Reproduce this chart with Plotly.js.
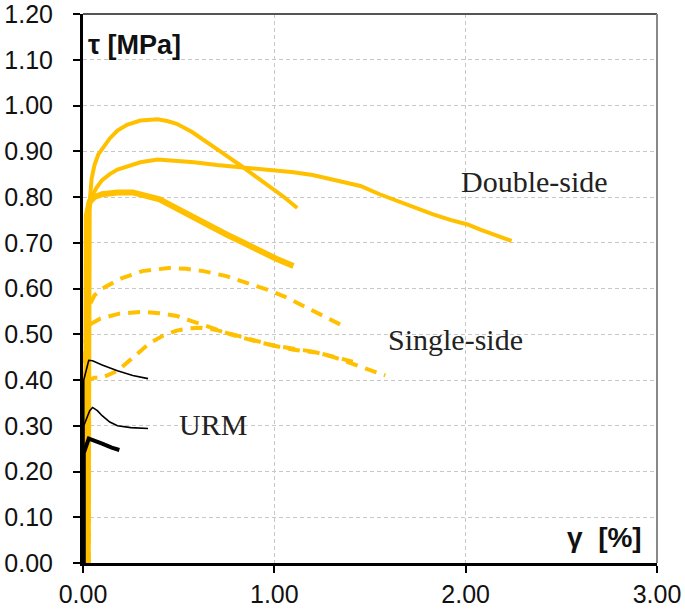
<!DOCTYPE html>
<html>
<head>
<meta charset="utf-8">
<script src="https://cdn.plot.ly/plotly-3.0.1.min.js"></script>
<style>html,body{margin:0;padding:0;background:#fff;}#chart{width:685px;height:609px;}</style>
</head>
<body>
<div id="chart"></div>
<script>
// Double-side (solid orange)
const dsA_x = [0.03, 0.03, 0.035, 0.045, 0.06, 0.08, 0.10, 0.14, 0.18, 0.23, 0.30, 0.39, 0.44, 0.49, 0.57, 0.66, 0.74, 0.82, 0.90, 0.99, 1.05, 1.12];
const dsA_y = [0, 0.70, 0.79, 0.84, 0.87, 0.893, 0.906, 0.928, 0.945, 0.958, 0.967, 0.970, 0.966, 0.960, 0.942, 0.915, 0.893, 0.870, 0.846, 0.820, 0.800, 0.776];
const dsB_x = [0.025, 0.025, 0.03, 0.045, 0.07, 0.10, 0.14, 0.18, 0.23, 0.30, 0.39, 0.48, 0.58, 0.70, 0.84, 0.97, 1.10, 1.20, 1.30, 1.38, 1.45, 1.55, 1.65, 1.74, 1.83, 1.92, 2.01, 2.08, 2.14, 2.20, 2.24];
const dsB_y = [0, 0.72, 0.77, 0.80, 0.82, 0.837, 0.850, 0.860, 0.867, 0.876, 0.882, 0.880, 0.876, 0.870, 0.865, 0.860, 0.854, 0.848, 0.838, 0.830, 0.824, 0.806, 0.790, 0.776, 0.762, 0.750, 0.740, 0.728, 0.719, 0.710, 0.704];
const dsC_x = [0.015, 0.015, 0.02, 0.035, 0.06, 0.10, 0.18, 0.26, 0.33, 0.40, 0.49, 0.58, 0.66, 0.75, 0.84, 0.925, 1.01, 1.10];
const dsC_y = [0, 0.70, 0.76, 0.79, 0.800, 0.806, 0.810, 0.810, 0.804, 0.795, 0.775, 0.754, 0.736, 0.718, 0.700, 0.682, 0.665, 0.649];
// Single-side (dashed orange)
const ssA_x = [0.02, 0.02, 0.03, 0.06, 0.10, 0.20, 0.31, 0.45, 0.54, 0.63, 0.75, 0.86, 0.98, 1.06, 1.13, 1.25, 1.38];
const ssA_y = [0, 0.50, 0.56, 0.585, 0.600, 0.622, 0.638, 0.645, 0.643, 0.638, 0.627, 0.612, 0.595, 0.581, 0.566, 0.540, 0.514];
const ssB_x = [0.01, 0.01, 0.03, 0.09, 0.19, 0.31, 0.40, 0.49, 0.56, 0.63, 0.70, 0.77, 0.85, 0.925, 1.00, 1.10, 1.20, 1.29, 1.41];
const ssB_y = [0, 0.48, 0.52, 0.534, 0.545, 0.549, 0.546, 0.540, 0.530, 0.519, 0.510, 0.500, 0.490, 0.482, 0.475, 0.468, 0.462, 0.453, 0.440];
const ssC_x = [0.03, 0.03, 0.06, 0.10, 0.18, 0.26, 0.35, 0.42, 0.49, 0.56, 0.62, 0.69, 0.75, 0.82, 0.89, 1.00, 1.10, 1.22, 1.31, 1.40, 1.49, 1.58];
const ssC_y = [0, 0.40, 0.405, 0.405, 0.420, 0.450, 0.481, 0.497, 0.508, 0.513, 0.514, 0.510, 0.503, 0.495, 0.486, 0.475, 0.466, 0.460, 0.450, 0.436, 0.423, 0.410];
// URM (black)
const urmA_x = [0.004, 0.004, 0.03, 0.05, 0.10, 0.18, 0.26, 0.34];
const urmA_y = [0, 0.40, 0.443, 0.442, 0.433, 0.420, 0.410, 0.403];
const urmB_x = [0.004, 0.004, 0.035, 0.05, 0.075, 0.10, 0.14, 0.18, 0.25, 0.34];
const urmB_y = [0, 0.30, 0.333, 0.340, 0.333, 0.322, 0.308, 0.300, 0.296, 0.294];
const urmC_x = [0.004, 0.004, 0.03, 0.06, 0.10, 0.15, 0.19];
const urmC_y = [0, 0.24, 0.272, 0.268, 0.261, 0.252, 0.247];

const yTicks = [0, 0.1, 0.2, 0.3, 0.4, 0.5, 0.6, 0.7, 0.8, 0.9, 1.0, 1.1, 1.2];
const xTicks = [0, 1, 2, 3];

const ORANGE = '#FFC000';
function tr(x, y, color, width, dash) {
  return {x: x, y: y, type: 'scatter', mode: 'lines', hoverinfo: 'skip',
    line: {color: color, width: width, dash: dash || 'solid', shape: 'linear'}};
}
const data = [
  tr(ssA_x, ssA_y, ORANGE, 4, '12px,8px'),
  tr(ssB_x, ssB_y, ORANGE, 4, '12px,8px'),
  tr(ssC_x, ssC_y, ORANGE, 4, '12px,8px'),
  tr(dsA_x, dsA_y, ORANGE, 4),
  tr(dsB_x, dsB_y, ORANGE, 4),
  tr(dsC_x, dsC_y, ORANGE, 6),
  tr(urmA_x, urmA_y, '#000', 1.6),
  tr(urmB_x, urmB_y, '#000', 1.6),
  tr(urmC_x, urmC_y, '#000', 4)
];

const tickFont = {family: 'Liberation Sans, Arial, sans-serif', size: 25, color: '#111'};
const layout = {
  width: 685, height: 609,
  margin: {l: 83, r: 28, t: 14, b: 46, pad: 0},
  paper_bgcolor: '#fff', plot_bgcolor: '#fff',
  showlegend: false,
  xaxis: {
    range: [0, 3], tickvals: xTicks, tickformat: '.2f', ticks: 'outside', ticklen: 7, tickwidth: 2, tickcolor: '#000',
    showline: true, linecolor: '#000', linewidth: 3, zeroline: false,
    showgrid: true, gridcolor: '#c8c8c8', gridwidth: 1, griddash: '4px,3px',
    tickfont: tickFont, ticklabeloverflow: 'allow', fixedrange: true
  },
  yaxis: {
    range: [0, 1.2], tickvals: yTicks, tickformat: '.2f', ticks: 'outside', ticklen: 7, tickwidth: 2, tickcolor: '#000',
    showline: true, linecolor: '#000', linewidth: 3, zeroline: false,
    showgrid: true, gridcolor: '#c8c8c8', gridwidth: 1, griddash: '4px,3px',
    tickfont: tickFont, ticklabelstandoff: 15, ticklabeloverflow: 'allow', fixedrange: true
  },
  shapes: [
    {type: 'line', xref: 'paper', yref: 'paper', x0: 0, x1: 1, y0: 1, y1: 1, line: {color: '#555', width: 2}},
    {type: 'line', xref: 'paper', yref: 'paper', x0: 1, x1: 1, y0: 0, y1: 1, line: {color: '#888', width: 2}}
  ],
  annotations: [
    {text: '<b>τ [MPa]</b>', xref: 'paper', yref: 'paper', x: 0.006, y: 0.943, xanchor: 'left', yanchor: 'middle', showarrow: false,
     font: {family: 'Liberation Sans, Arial, sans-serif', size: 27, color: '#111'}},
    {text: '<b>γ\u00a0 [%]</b>', xref: 'paper', yref: 'paper', x: 0.978, y: 0.047, xanchor: 'right', yanchor: 'middle', showarrow: false,
     font: {family: 'Liberation Sans, Arial, sans-serif', size: 28, color: '#111'}},
    {text: 'Double-side', xref: 'paper', yref: 'paper', x: 0.655, y: 0.694, xanchor: 'left', yanchor: 'middle', showarrow: false,
     font: {family: 'Liberation Serif, Times New Roman, serif', size: 30, color: '#222'}},
    {text: 'Single-side', xref: 'paper', yref: 'paper', x: 0.528, y: 0.408, xanchor: 'left', yanchor: 'middle', showarrow: false,
     font: {family: 'Liberation Serif, Times New Roman, serif', size: 30, color: '#222'}},
    {text: 'URM', xref: 'paper', yref: 'paper', x: 0.163, y: 0.253, xanchor: 'left', yanchor: 'middle', showarrow: false,
     font: {family: 'Liberation Serif, Times New Roman, serif', size: 30, color: '#222'}}
  ]
};
Plotly.newPlot('chart', data, layout, {displayModeBar: false, staticPlot: true});
</script>
</body>
</html>
